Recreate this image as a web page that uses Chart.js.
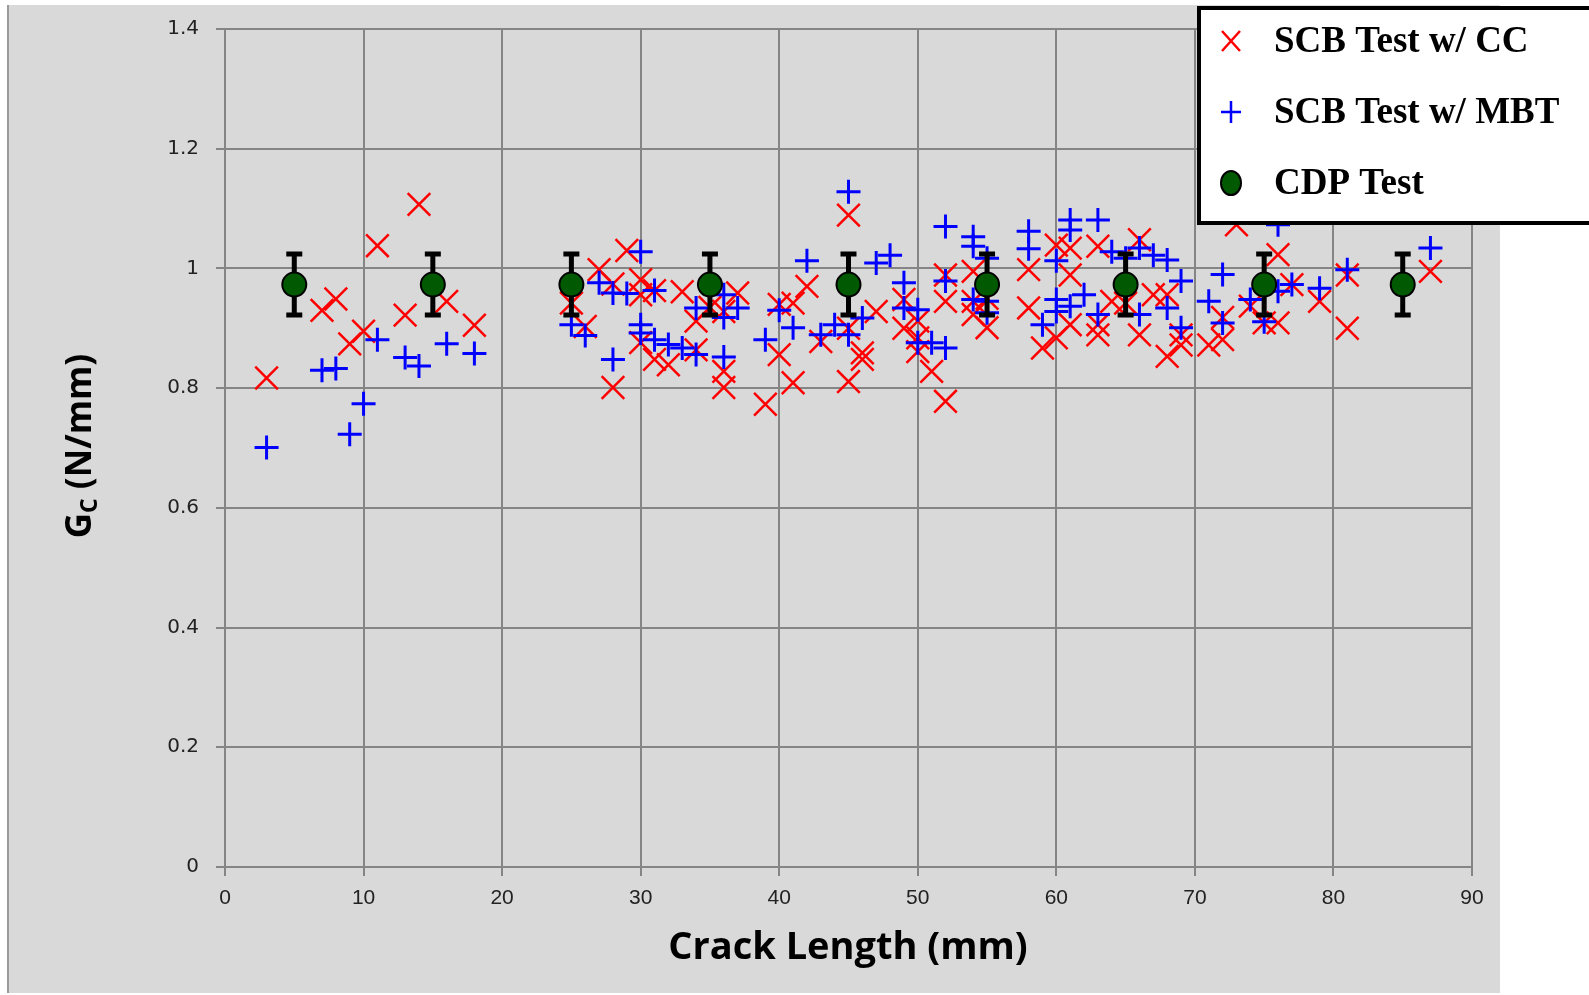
<!DOCTYPE html>
<html>
<head>
<meta charset="utf-8">
<script src="https://cdn.jsdelivr.net/npm/chart.js@4.4.1/dist/chart.umd.min.js"></script>
<style>
  html, body { margin: 0; padding: 0; background: #fff; }
  #wrap { width: 1589px; height: 995px; }
</style>
</head>
<body>
<div id="wrap"><canvas id="myChart" width="1589" height="995"></canvas></div>
<script>
// SCB Test w/ CC (red x)
const ccX = [3, 7, 8, 9, 10, 11, 13, 14, 16, 18,
  25, 26, 27, 28, 28, 29, 30, 30, 30, 31, 31, 32, 33, 34, 34, 35, 36, 36, 36, 37, 39,
  40, 40, 41, 41, 42, 43, 45, 45, 45, 46, 46, 47, 49, 49, 50, 50, 50, 51, 52, 52, 52,
  54, 54, 54, 55, 55, 58, 58, 59, 60, 60, 61, 61, 61, 63, 63, 63, 64, 65, 66, 66, 67,
  68, 68, 69, 69, 71, 72, 72, 73, 74, 75, 76, 76, 77, 79, 81, 81, 87];
const ccY = [0.817, 0.930, 0.949, 0.874, 0.895, 1.038, 0.922, 1.107, 0.945, 0.905,
  0.942, 0.903, 0.998, 0.974, 0.801, 1.030, 0.981, 0.956, 0.876, 0.963, 0.848, 0.839, 0.961, 0.912, 0.864, 0.935, 0.928, 0.828, 0.801, 0.959, 0.773,
  0.940, 0.856, 0.942, 0.809, 0.970, 0.878, 1.089, 0.900, 0.811, 0.859, 0.848, 0.928, 0.948, 0.900, 0.912, 0.884, 0.861, 0.828, 0.989, 0.945, 0.778,
  0.995, 0.945, 0.923, 0.950, 0.901, 0.998, 0.934, 0.867, 1.039, 0.884, 1.034, 0.989, 0.906, 1.037, 0.906, 0.889, 0.945, 0.942, 1.048, 0.889, 0.956,
  0.956, 0.853, 0.889, 0.872, 0.872, 0.918, 0.881, 1.073, 0.937, 0.909, 1.023, 0.909, 0.973, 0.945, 0.989, 0.900, 0.995];

// SCB Test w/ MBT (blue +)
const mbtX = [3, 7, 8, 9, 10, 11, 13, 14, 16, 18,
  25, 26, 27, 28, 28, 29, 30, 30, 30, 31, 31, 32, 33, 34, 34, 36, 36, 36, 37, 39,
  40, 41, 42, 43, 44, 45, 45, 46, 47, 48, 49, 49, 50, 50, 51, 52, 52, 52, 54, 54, 54,
  55, 55, 55, 58, 58, 59, 60, 60, 60, 61, 61, 61, 62, 63, 63, 64, 65, 66, 66, 67, 68,
  68, 69, 69, 71, 72, 72, 74, 75, 76, 76, 77, 79, 81, 87];
const mbtY = [0.701, 0.830, 0.833, 0.723, 0.774, 0.881, 0.851, 0.837, 0.874, 0.858,
  0.906, 0.888, 0.976, 0.959, 0.848, 0.958, 1.028, 0.906, 0.892, 0.963, 0.881, 0.873, 0.867, 0.934, 0.856, 0.956, 0.918, 0.852, 0.934, 0.881,
  0.930, 0.901, 1.013, 0.889, 0.906, 1.128, 0.889, 0.917, 1.009, 1.022, 0.976, 0.934, 0.931, 0.876, 0.876, 1.070, 0.979, 0.867, 1.053, 1.037, 0.948,
  1.017, 0.945, 0.926, 1.062, 1.033, 0.906, 1.013, 0.948, 0.928, 1.081, 1.064, 0.937, 0.956, 1.081, 0.923, 1.028, 1.017, 1.034, 0.923, 1.022, 1.014,
  0.934, 0.979, 0.901, 0.945, 0.990, 0.909, 0.948, 0.911, 1.073, 0.962, 0.973, 0.967, 0.998, 1.034];

// CDP Test (green dots with error bars)
const cdpX = [5, 15, 25, 35, 45, 55, 65, 75, 85];
const cdpY = [0.973, 0.973, 0.973, 0.973, 0.973, 0.973, 0.973, 0.973, 0.973];
const cdpErr = [0.051, 0.051, 0.051, 0.051, 0.051, 0.051, 0.051, 0.051, 0.051];

const legendLabels = ['SCB Test w/ CC', 'SCB Test w/ MBT', 'CDP Test'];
const xTitle = 'Crack Length (mm)';

function pts(xs, ys) {
  return xs.map((x, i) => ({ x: x, y: ys[i] }));
}

const background = {
  id: 'background',
  beforeDraw(chart) {
    const c = chart.ctx;
    c.save();
    c.fillStyle = '#ffffff';
    c.fillRect(0, 0, chart.width, chart.height);
    c.fillStyle = '#d9d9d9';
    c.fillRect(8, 5, 1492, 988);
    c.fillStyle = '#9a9a9a';
    c.fillRect(7, 5, 2, 988);
    c.restore();
  }
};

const errorBars = {
  id: 'errorBars',
  beforeDatasetDraw(chart, args) {
    if (args.index !== 0) return;
    const c = chart.ctx;
    const xs = chart.scales.x, ys = chart.scales.y;
    c.save();
    c.strokeStyle = '#000';
    c.lineWidth = 5;
    cdpX.forEach((x, i) => {
      const px = xs.getPixelForValue(x);
      const top = ys.getPixelForValue(cdpY[i] + cdpErr[i]);
      const bot = ys.getPixelForValue(cdpY[i] - cdpErr[i]);
      c.beginPath();
      c.moveTo(px, top); c.lineTo(px, bot);
      c.moveTo(px - 8, top); c.lineTo(px + 8, top);
      c.moveTo(px - 8, bot); c.lineTo(px + 8, bot);
      c.stroke();
    });
    c.restore();
  }
};

const titlesAndLegend = {
  id: 'titlesAndLegend',
  afterDraw(chart) {
    const c = chart.ctx;
    c.save();
    // x title
    c.fillStyle = '#000';
    c.font = 'bold 38px "Open Sans", Lato, sans-serif';
    c.textAlign = 'center';
    c.textBaseline = 'middle';
    c.fillText(xTitle, 848, 948);

    // y title with subscript
    c.translate(81, 446);
    c.rotate(-Math.PI / 2);
    const big = 'bold 35px "Open Sans", Lato, sans-serif';
    const small = 'bold 23px "Open Sans", Lato, sans-serif';
    c.font = big; const wG = c.measureText('G').width; const wR = c.measureText(' (N/mm)').width;
    c.font = small; const wC = c.measureText('C').width;
    let x0 = -(wG + wC + wR) / 2;
    c.textAlign = 'left';
    c.font = big; c.fillText('G', x0, 0);
    c.font = small; c.fillText('C', x0 + wG, 9);
    c.font = big; c.fillText(' (N/mm)', x0 + wG + wC, 0);
    c.restore();

    // legend
    c.save();
    c.fillStyle = '#fff';
    c.fillRect(1199, 8, 400, 215);
    c.strokeStyle = '#000';
    c.lineWidth = 4;
    c.strokeRect(1199, 8, 400, 215);
    const rows = [41, 112, 183];
    const mx = 1231;
    c.lineWidth = 2.5;
    c.strokeStyle = '#ff0000';
    c.beginPath();
    c.moveTo(mx - 9, rows[0] - 10); c.lineTo(mx + 9, rows[0] + 10);
    c.moveTo(mx + 9, rows[0] - 10); c.lineTo(mx - 9, rows[0] + 10);
    c.stroke();
    c.strokeStyle = '#0000ff';
    c.beginPath();
    c.moveTo(mx - 10, rows[1]); c.lineTo(mx + 10, rows[1]);
    c.moveTo(mx, rows[1] - 11); c.lineTo(mx, rows[1] + 11);
    c.stroke();
    c.fillStyle = '#015a01';
    c.strokeStyle = '#000';
    c.lineWidth = 2;
    c.beginPath();
    c.ellipse(mx, rows[2], 10, 12, 0, 0, Math.PI * 2);
    c.fill(); c.stroke();
    c.fillStyle = '#000';
    c.font = 'bold 37px "Liberation Serif", "DejaVu Serif", serif';
    c.textAlign = 'left';
    c.textBaseline = 'middle';
    legendLabels.forEach((t, i) => c.fillText(t, 1274, rows[i] + 1));
    c.restore();
  }
};

const ctx = document.getElementById('myChart');

new Chart(ctx, {
  type: 'scatter',
  data: {
    datasets: [
      {
        label: legendLabels[2],
        data: pts(cdpX, cdpY),
        pointStyle: 'circle',
        pointRadius: 12,
        pointBackgroundColor: '#015a01',
        pointBorderColor: '#000',
        pointBorderWidth: 2,
        order: 0
      },
      {
        label: legendLabels[1],
        data: pts(mbtX, mbtY),
        pointStyle: 'cross',
        pointRadius: 12,
        pointBorderColor: '#0000ff',
        pointBorderWidth: 3,
        order: 1
      },
      {
        label: legendLabels[0],
        data: pts(ccX, ccY),
        pointStyle: 'crossRot',
        pointRadius: 16,
        pointBorderColor: '#ff0000',
        pointBorderWidth: 2.5,
        order: 2
      }
    ]
  },
  options: {
    responsive: false,
    animation: false,
    events: [],
    layout: { padding: { top: 27, right: 117, left: 0, bottom: 0 } },
    scales: {
      x: {
        type: 'linear',
        min: 0, max: 90,
        afterFit(scale) { scale.height = 128; },
        ticks: {
          stepSize: 10,
          padding: 10,
          color: '#222',
          maxRotation: 0,
          font: { family: '"Liberation Sans Narrow", "Liberation Sans", sans-serif', size: 21 }
        },
        grid: { color: '#858585', lineWidth: 2, tickLength: 9 },
        border: { color: '#858585', width: 2 }
      },
      y: {
        type: 'linear',
        min: 0, max: 1.4,
        afterFit(scale) { scale.width = 225; },
        ticks: {
          stepSize: 0.2,
          padding: 17,
          color: '#222',
          font: { family: '"DejaVu Sans", sans-serif', size: 20 },
          callback: (v) => String(Number(v.toFixed(1)))
        },
        grid: { color: '#858585', lineWidth: 2, tickLength: 9 },
        border: { color: '#858585', width: 2 }
      }
    },
    plugins: {
      legend: { display: false },
      tooltip: { enabled: false }
    }
  },
  plugins: [background, errorBars, titlesAndLegend]
});
</script>
</body>
</html>
